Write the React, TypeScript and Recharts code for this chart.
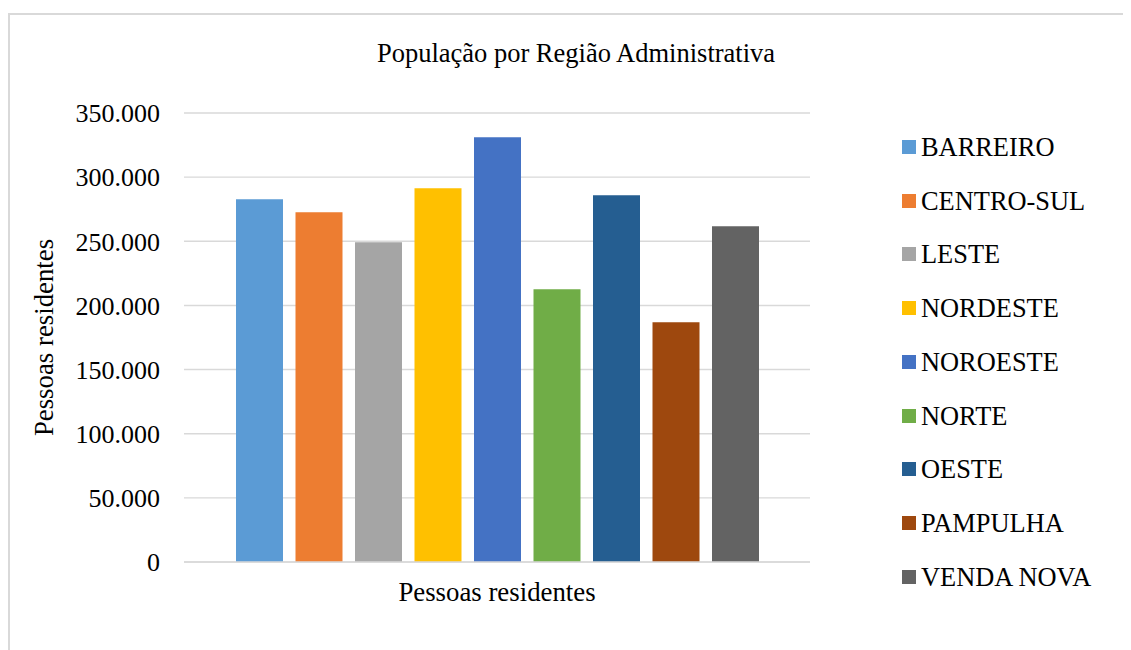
import React from 'react';
import { BarChart, Bar, XAxis, YAxis, CartesianGrid } from 'recharts';

const regions = ['BARREIRO', 'CENTRO-SUL', 'LESTE', 'NORDESTE', 'NOROESTE', 'NORTE', 'OESTE', 'PAMPULHA', 'VENDA NOVA'];
const population = [282700, 272600, 249200, 291300, 331000, 212600, 285800, 186800, 261700];
const colors = ['#5B9BD5', '#ED7D31', '#A5A5A5', '#FFC000', '#4472C4', '#70AD47', '#255E91', '#9E480E', '#636363'];
const category = 'Pessoas residentes';
const yTicks = [0, 50000, 100000, 150000, 200000, 250000, 300000, 350000];
const title = 'População por Região Administrativa';
const yLabel = 'Pessoas residentes';

const row: Record<string, string | number> = { name: category };
regions.forEach((r, i) => {
  row[r] = population[i];
});
const data = [row];

const FONT = '"Liberation Serif", "Times New Roman", serif';

const fmt = (v: number) => {
  const s = String(Math.round(v));
  return s.replace(/\B(?=(\d{3})+(?!\d))/g, '.');
};

const LegendBox = () => (
  <div
    style={{
      position: 'absolute',
      left: 894,
      top: 112,
      width: 229,
      fontFamily: FONT,
      fontSize: 26.4,
      color: '#000',
    }}
  >
    {regions.map((r, i) => (
      <div key={r} style={{ display: 'flex', alignItems: 'center', height: 53.75, lineHeight: '26px' }}>
        <div style={{ width: 14, height: 14, background: colors[i], marginRight: 5, flexShrink: 0 }} />
        <span style={{ whiteSpace: 'nowrap' }}>{r}</span>
      </div>
    ))}
  </div>
);

export default function App() {
  return (
    <div style={{ position: 'relative', width: 1123, height: 642, overflow: 'hidden', background: '#fff' }}>
      <div
        style={{
          position: 'absolute',
          left: 0,
          top: 5,
          width: 1200,
          height: 700,
          border: '2px solid #d9d9d9',
          boxSizing: 'border-box',
        }}
      />
      <div style={{ position: 'absolute', left: 0, top: 0 }}>
        <BarChart
          width={1123}
          height={642}
          data={data}
          margin={{ top: 105, right: 321, bottom: 58, left: 0 }}
          barSize={47}
          barGap={12.5}
        >
          <CartesianGrid vertical={false} stroke="#d9d9d9" strokeWidth={1.4} />
          <XAxis
            dataKey="name"
            height={30}
            axisLine={{ stroke: '#d9d9d9', strokeWidth: 1.4 }}
            tickLine={false}
            tickSize={0}
            tickMargin={20}
            tick={{ fontFamily: FONT, fontSize: 26.8, fill: '#000' }}
          />
          <YAxis
            width={176}
            domain={[0, 350000]}
            ticks={yTicks}
            tickFormatter={fmt}
            axisLine={false}
            tickLine={false}
            tickSize={0}
            tickMargin={24}
            tick={{ fontFamily: FONT, fontSize: 26, fill: '#000' }}
          />
          {regions.map((r, i) => (
            <Bar key={r} dataKey={r} fill={colors[i]} isAnimationActive={false} />
          ))}
        </BarChart>
      </div>
      <LegendBox />
      <svg
        width={1123}
        height={642}
        style={{ position: 'absolute', left: 0, top: 0, pointerEvents: 'none' }}
      >
        <text x={568} y={54} textAnchor="middle" fontFamily={FONT} fontSize={26.5} fill="#000">
          {title}
        </text>
        <text
          x={45}
          y={329.5}
          transform="rotate(-90 45 329.5)"
          textAnchor="middle"
          fontFamily={FONT}
          fontSize={26.8}
          fill="#000"
        >
          {yLabel}
        </text>
      </svg>
    </div>
  );
}
